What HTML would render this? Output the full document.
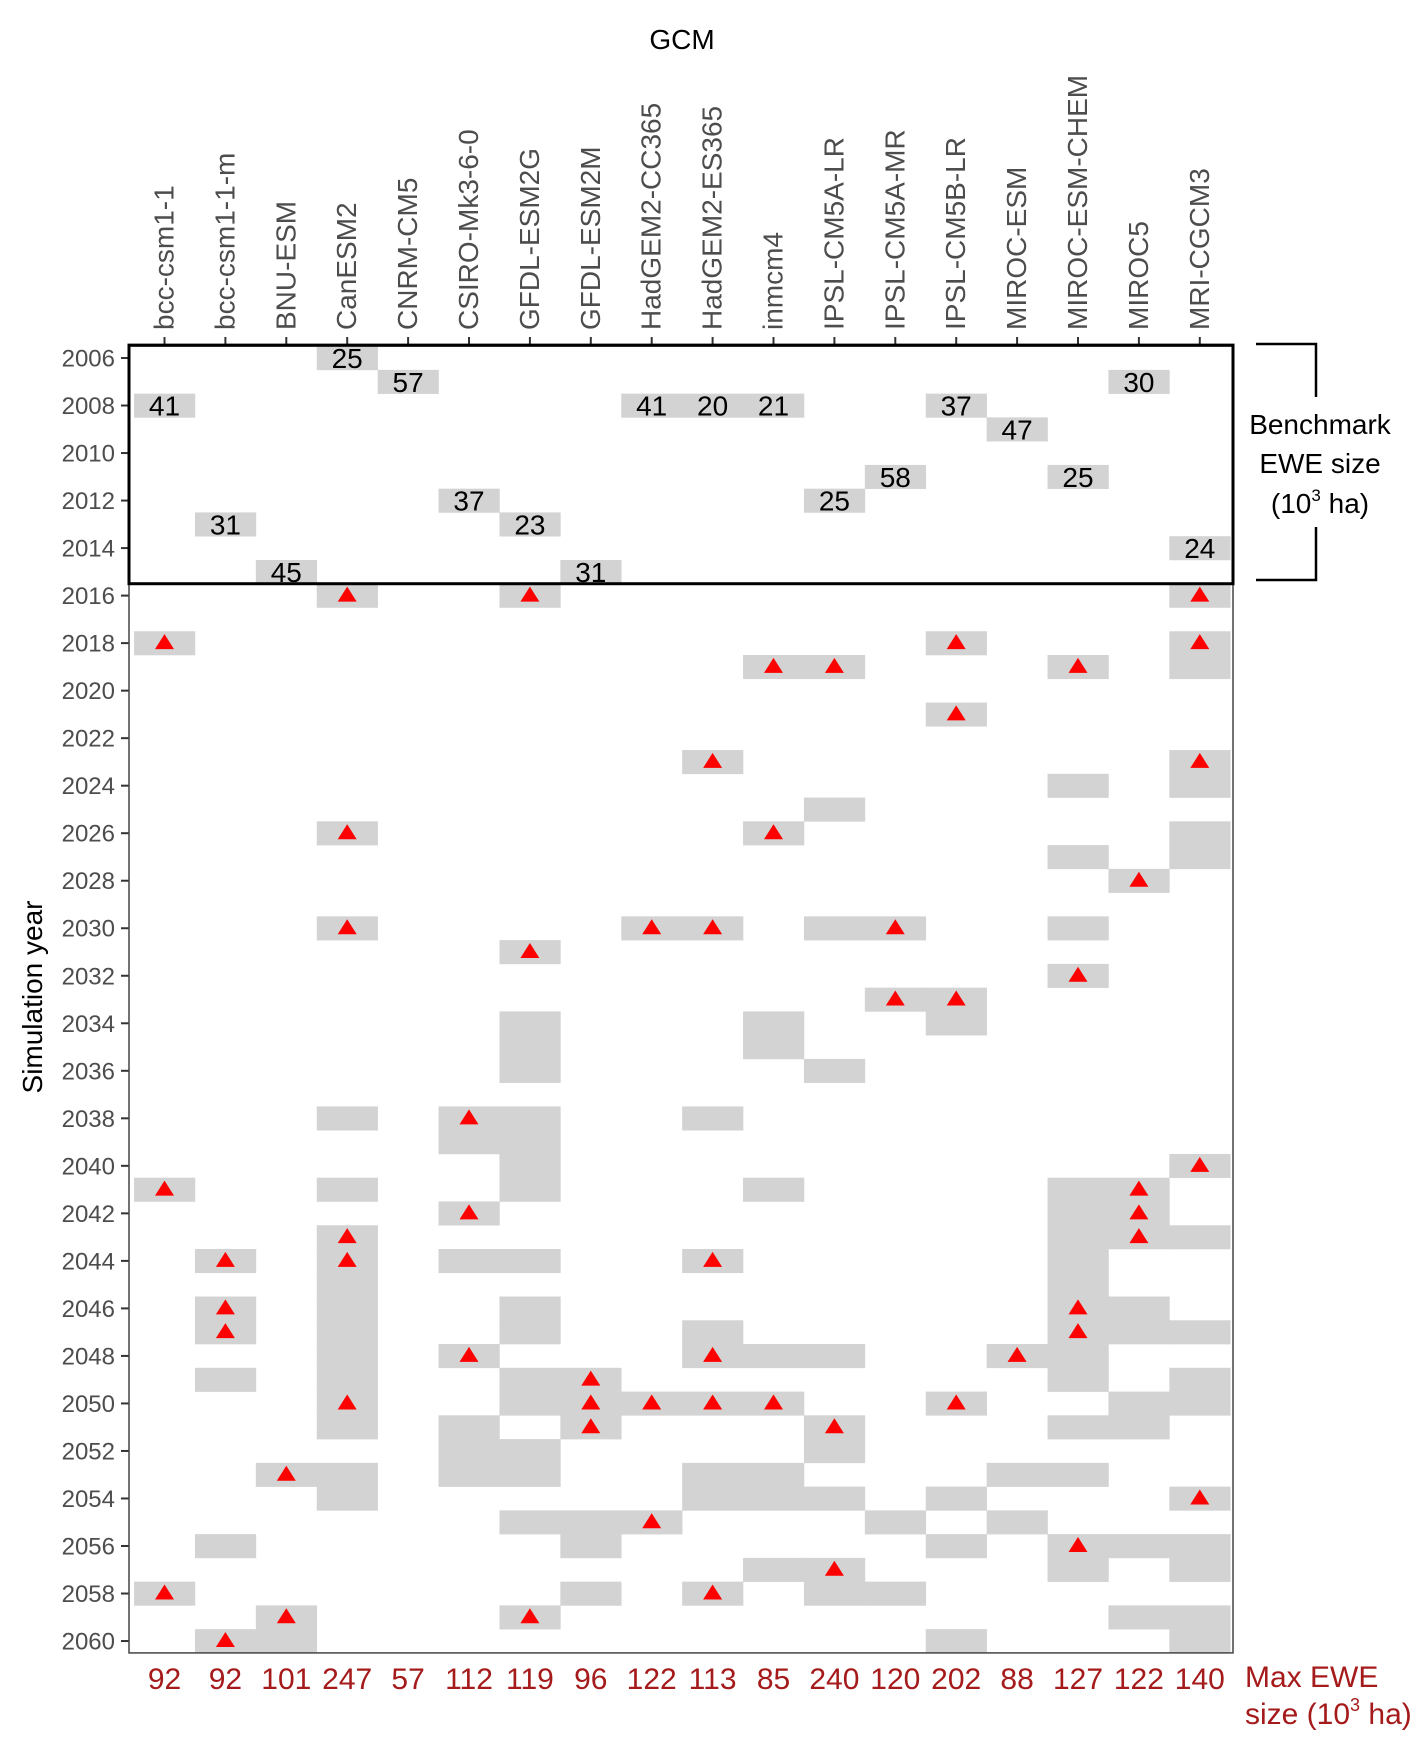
<!DOCTYPE html>
<html>
<head>
<meta charset="utf-8">
<style>
html,body{margin:0;padding:0;background:#fff;}
svg{display:block;font-family:"Liberation Sans",Arial,sans-serif;}
</style>
</head>
<body>
<svg id="chart" width="1425" height="1743" viewBox="0 0 1425 1743" xmlns="http://www.w3.org/2000/svg">
  <g id="cells"></g>
  <g id="marks"></g>
  <g id="bench"></g>
  <g id="axes"></g>
  <text x="682" y="49" font-size="28" text-anchor="middle" fill="#000">GCM</text>
  <text transform="translate(42,997) rotate(-90)" font-size="28" text-anchor="middle" fill="#000">Simulation year</text>
  <g stroke="#000" stroke-width="2.5" fill="none">
    <polyline points="1256,344 1316,344 1316,397"></polyline>
    <polyline points="1316,527 1316,580 1256,580"></polyline>
  </g>
  <g font-size="28" text-anchor="middle" fill="#000">
    <text x="1320" y="434">Benchmark</text>
    <text x="1320" y="473">EWE size</text>
    <text x="1320" y="513">(10<tspan font-size="17" dy="-12">3</tspan><tspan dy="12"> ha)</tspan></text>
  </g>
  <g font-size="30" fill="#a51a1a">
    <text x="1245" y="1687">Max EWE</text>
    <text x="1245" y="1724">size (10<tspan font-size="18" dy="-13">3</tspan><tspan dy="13"> ha)</tspan></text>
  </g>
</svg>
<script>
const gcms = ["bcc-csm1-1","bcc-csm1-1-m","BNU-ESM","CanESM2","CNRM-CM5","CSIRO-Mk3-6-0","GFDL-ESM2G","GFDL-ESM2M","HadGEM2-CC365","HadGEM2-ES365","inmcm4","IPSL-CM5A-LR","IPSL-CM5A-MR","IPSL-CM5B-LR","MIROC-ESM","MIROC-ESM-CHEM","MIROC5","MRI-CGCM3"];
const benchYears = [2008,2013,2015,2006,2007,2012,2013,2015,2008,2008,2008,2012,2011,2008,2009,2011,2007,2014];
const benchValues = [41,31,45,25,57,37,23,31,41,20,21,25,58,37,47,25,30,24];
const maxValues = [92,92,101,247,57,112,119,96,122,113,85,240,120,202,88,127,122,140];
const triangleYears = [
  [2018,2041,2058],
  [2044,2046,2047,2060],
  [2053,2059],
  [2016,2026,2030,2043,2044,2050],
  [],
  [2038,2042,2048],
  [2016,2031,2059],
  [2049,2050,2051],
  [2030,2050,2055],
  [2023,2030,2044,2048,2050,2058],
  [2019,2026,2050],
  [2019,2051,2057],
  [2030,2033],
  [2018,2021,2033,2050],
  [2048],
  [2019,2032,2046,2047,2056],
  [2028,2041,2042,2043],
  [2016,2018,2023,2040,2054]
];
const grayYears = [
  [],
  [2049,2056],
  [2060],
  [2038,2041,2045,2046,2047,2048,2049,2051,2053,2054],
  [],
  [2039,2044,2051,2052,2053],
  [2034,2035,2036,2038,2039,2040,2041,2044,2046,2047,2049,2050,2052,2053,2055],
  [2055,2056,2058],
  [],
  [2038,2047,2053,2054],
  [2034,2035,2041,2048,2053,2054,2057],
  [2025,2030,2036,2048,2052,2054,2058],
  [2055,2058],
  [2034,2054,2056,2060],
  [2053,2055],
  [2024,2027,2030,2041,2042,2043,2044,2045,2048,2049,2051,2053,2057],
  [2046,2047,2050,2051,2056,2059],
  [2019,2024,2026,2027,2043,2047,2049,2050,2056,2057,2059,2060]
];
const yearTicks = [2006,2008,2010,2012,2014,2016,2018,2020,2022,2024,2026,2028,2030,2032,2034,2036,2038,2040,2042,2044,2046,2048,2050,2052,2054,2056,2058,2060];

const NS = "http://www.w3.org/2000/svg";
const X0 = 164.5, DX = 60.9, Y0 = 358, DY = 23.76;
function xCol(i){ return X0 + i*DX; }
function yYear(y){ return Y0 + (y-2006)*DY; }
function mk(tag, attrs, parent){ const e=document.createElementNS(NS,tag); for(const k in attrs) e.setAttribute(k,attrs[k]); parent.appendChild(e); return e; }

const cellsG = document.getElementById('cells');
const marksG = document.getElementById('marks');
const benchG = document.getElementById('bench');
const axesG = document.getElementById('axes');
const GRAY = "#d3d3d3";

function cell(i, yr, name){
  const r = mk('rect',{x:(xCol(i)-DX/2).toFixed(2), y:(yYear(yr)-DY/2).toFixed(2), width:(DX+0.3).toFixed(2), height:(DY+0.3).toFixed(2), fill:GRAY}, cellsG);
  
  
}

gcms.forEach((g,i)=>{
  grayYears[i].forEach(yr=>{ cell(i, yr, 'ewe-cell'); });
  triangleYears[i].forEach(yr=>{
    cell(i, yr, 'max-ewe-cell');
    const cx = xCol(i), cy = yYear(yr);
    const t = mk('polygon',{points:`${cx},${cy-9} ${cx-9.5},${cy+6} ${cx+9.5},${cy+6}`, fill:"#ff0000"}, marksG);
    
    
  });
  cell(i, benchYears[i], 'benchmark-cell');
  const bt = mk('text',{x:xCol(i), y:(yYear(benchYears[i])+10).toFixed(1), 'font-size':28, 'text-anchor':'middle', fill:'#000'}, benchG);
  bt.textContent = benchValues[i];
  
  

  const lbl = mk('text',{transform:`translate(${(xCol(i)+9).toFixed(1)},330) rotate(-90)`, 'font-size':28, fill:'#4d4d4d'}, axesG);
  lbl.textContent = g;
  
  
  const tk = mk('line',{x1:xCol(i), x2:xCol(i), y1:337, y2:345, stroke:'#333', 'stroke-width':2}, axesG);
  
  

  const mv = mk('text',{x:xCol(i), y:1689, 'font-size':30, 'text-anchor':'middle', fill:'#a51a1a'}, axesG);
  mv.textContent = maxValues[i];
  
  
});

yearTicks.forEach(yr=>{
  const y = yYear(yr);
  const t = mk('text',{x:115, y:(y+8.5).toFixed(1), 'font-size':24, 'text-anchor':'end', fill:'#4d4d4d'}, axesG);
  t.textContent = yr;
  
  
  const tk = mk('line',{x1:121, x2:129, y1:y, y2:y, stroke:'#333', 'stroke-width':2}, axesG);
  
  
});

const pTop = yYear(2006)-DY/2, pBot = yYear(2060)+DY/2, pBenchBot = yYear(2015)+DY/2;
const pb = mk('rect',{x:129, y:pTop, width:1233-129, height:(pBot-pTop).toFixed(1), fill:'none', stroke:'#444', 'stroke-width':1.5}, axesG);


const bb = mk('rect',{x:129, y:pTop-1, width:1233-129, height:(pBenchBot-pTop+1).toFixed(1), fill:'none', stroke:'#000', 'stroke-width':3}, axesG);


</script>
</body>
</html>
